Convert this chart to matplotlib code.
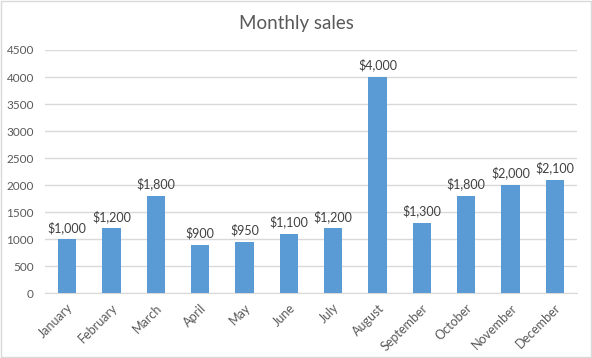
import matplotlib.pyplot as plt
from matplotlib.patches import Rectangle

# data
months = ['January', 'February', 'March', 'April', 'May', 'June',
          'July', 'August', 'September', 'October', 'November', 'December']
sales = [1000, 1200, 1800, 900, 950, 1100, 1200, 4000, 1300, 1800, 2000, 2100]
yticks = [0, 500, 1000, 1500, 2000, 2500, 3000, 3500, 4000, 4500]

plt.rcParams['font.family'] = ['Lato', 'DejaVu Sans']
text_col = '#595959'

fig = plt.figure(figsize=(5.92, 3.58), dpi=100)
ax = fig.add_axes([45 / 592, 1 - 293.3 / 358, 532 / 592, 243.3 / 358])

x = list(range(len(months)))
bars = ax.bar(x, sales, width=0.41, color='#5b9bd5', zorder=3)

for xi, v in zip(x, sales):
    ax.annotate(f'${v:,}', (xi, v), xytext=(0, 4), textcoords='offset points',
                ha='center', va='bottom', fontsize=9, color='#404040')

ax.set_xlim(-0.5, len(months) - 0.5)
ax.set_ylim(0, 4500)
ax.set_yticks(yticks)
ax.set_yticklabels([str(t) for t in yticks], fontsize=8.5, color=text_col)
ax.set_xticks(x)
ax.set_xticklabels(months, rotation=45, ha='right', rotation_mode='anchor',
                   fontsize=9, color=text_col)
ax.tick_params(length=0, pad=8)
ax.tick_params(axis='x', pad=6)
ax.grid(axis='y', color='#d9d9d9', linewidth=1, zorder=0)
for s in ['top', 'right', 'left']:
    ax.spines[s].set_visible(False)
ax.spines['bottom'].set_color('#d9d9d9')

fig.text(0.5, 1 - 23 / 358, 'Monthly sales', ha='center', va='center',
         fontsize=13.5, color=text_col)

# light border round the chart
fig.patches.append(Rectangle((0.001, 0.002), 0.997, 0.995, transform=fig.transFigure,
                             fill=False, edgecolor='#d9d9d9', linewidth=1))

fig.savefig('out.png', dpi=100)
